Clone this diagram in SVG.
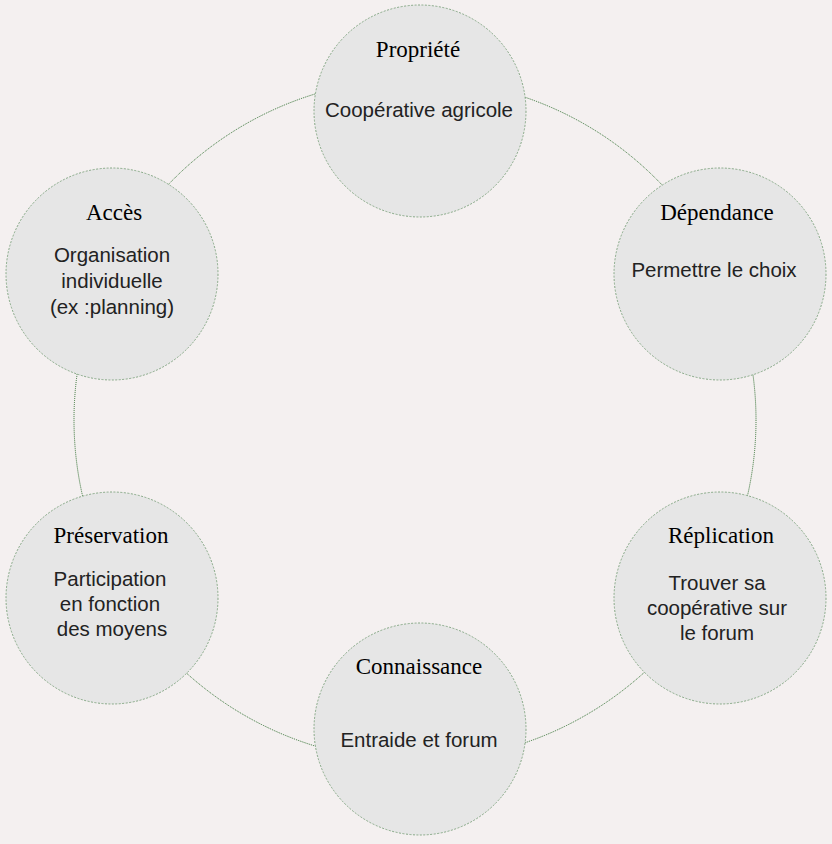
<svg xmlns="http://www.w3.org/2000/svg" width="832" height="844" viewBox="0 0 832 844">
<style>
.node{fill:#e6e6e6;stroke:#86a886;stroke-width:1;stroke-dasharray:2 1.5}
.t{font-family:"Liberation Serif","Times New Roman",serif;font-size:23px;fill:#000;text-anchor:middle}
.b{font-family:"Liberation Sans",Arial,sans-serif;font-size:20.5px;fill:#222;text-anchor:middle}
.ring{fill:none;stroke:#2f6f2f;stroke-width:1;stroke-dasharray:1 1}
</style>
<rect width="832" height="844" fill="#f4f0f0"/>
<g id="connectors">
<circle class="ring" cx="415" cy="420" r="341"/>
</g>
<g id="propriete">
<circle class="node" cx="420" cy="111" r="106"/>
<text class="t" x="418" y="57">Propriété</text>
<text class="b" x="419" y="117">Coopérative agricole</text>
</g>
<g id="dependance">
<circle class="node" cx="720" cy="274" r="106"/>
<text class="t" x="717" y="220">Dépendance</text>
<text class="b" x="714" y="277">Permettre le choix</text>
</g>
<g id="replication">
<circle class="node" cx="720" cy="598" r="106"/>
<text class="t" x="721" y="543">Réplication</text>
<text class="b" x="717" y="590">Trouver sa</text>
<text class="b" x="717" y="615">coopérative sur</text>
<text class="b" x="717" y="640">le forum</text>
</g>
<g id="connaissance">
<circle class="node" cx="420" cy="729" r="106"/>
<text class="t" x="419" y="674">Connaissance</text>
<text class="b" x="419" y="747">Entraide et forum</text>
</g>
<g id="preservation">
<circle class="node" cx="112" cy="598" r="106"/>
<text class="t" x="111" y="543">Préservation</text>
<text class="b" x="110" y="586">Participation</text>
<text class="b" x="110" y="611">en fonction</text>
<text class="b" x="112" y="636">des moyens</text>
</g>
<g id="acces">
<circle class="node" cx="112" cy="274" r="106"/>
<text class="t" x="114" y="220">Accès</text>
<text class="b" x="112" y="262">Organisation</text>
<text class="b" x="112" y="288">individuelle</text>
<text class="b" x="112" y="314">(ex :planning)</text>
</g>
</svg>
